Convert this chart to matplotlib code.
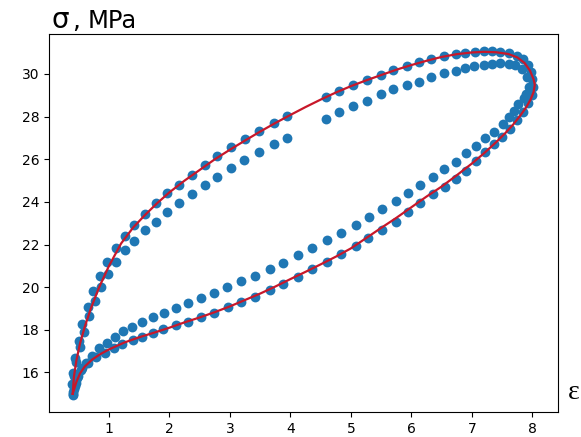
import matplotlib
matplotlib.use("Agg")
import matplotlib.pyplot as plt

# ── measured loops (strain, stress) ──────────────────────────────────────────
# loop 1: outer upper branch (loading) ...
up1_x = [0.40, 0.39, 0.40, 0.44, 0.50, 0.56, 0.65, 0.74, 0.85, 0.97, 1.12, 1.26,
         1.42, 1.59, 1.77, 1.96, 2.16, 2.37, 2.58, 2.78, 3.02, 3.25, 3.48, 3.72,
         3.95, 4.59, 4.81, 5.04, 5.26, 5.49, 5.70, 5.92, 6.13, 6.33, 6.54, 6.73,
         6.89, 7.05, 7.20, 7.33, 7.47, 7.61, 7.74, 7.84, 7.92, 7.97, 8.00, 8.01]
up1_y = [14.95, 15.45, 15.97, 16.70, 17.48, 18.26, 19.05, 19.81, 20.53, 21.18,
         21.85, 22.39, 22.91, 23.44, 23.94, 24.41, 24.81, 25.27, 25.75, 26.14,
         26.56, 26.95, 27.34, 27.70, 28.04, 28.92, 29.21, 29.49, 29.72, 29.95,
         30.18, 30.39, 30.55, 30.69, 30.84, 30.94, 31.00, 31.04, 31.07, 31.07,
         31.04, 30.97, 30.84, 30.68, 30.42, 30.10, 29.75, 29.40]
# ... and its lower branch (unloading)
lo1_x = [8.00, 7.93, 7.85, 7.75, 7.63, 7.50, 7.37, 7.22, 7.07, 6.91, 6.73, 6.55,
         6.36, 6.15, 5.95, 5.74, 5.52, 5.29, 5.08, 4.83, 4.61, 4.36, 4.12, 3.88,
         3.66, 3.41, 3.18, 2.96, 2.74, 2.52, 2.30, 2.10, 1.90, 1.72, 1.55, 1.39,
         1.22, 1.08, 0.93, 0.78, 0.65, 0.56, 0.49, 0.45, 0.42]
lo1_y = [29.02, 28.62, 28.22, 27.82, 27.42, 27.05, 26.70, 26.32, 25.90, 25.47,
         25.08, 24.72, 24.35, 23.94, 23.52, 23.08, 22.70, 22.32, 21.93, 21.55,
         21.18, 20.84, 20.48, 20.17, 19.86, 19.55, 19.31, 19.05, 18.80, 18.58,
         18.38, 18.22, 18.05, 17.86, 17.68, 17.52, 17.34, 17.14, 16.93, 16.71,
         16.43, 16.20, 15.85, 15.50, 15.20]

# loop 2: inner upper branch ...
up2_x = [0.41, 0.42, 0.46, 0.52, 0.59, 0.67, 0.77, 0.87, 0.99, 1.12, 1.26, 1.42,
         1.59, 1.77, 1.96, 2.16, 2.37, 2.58, 2.79, 3.02, 3.24, 3.48, 3.72, 3.95,
         4.59, 4.81, 5.04, 5.26, 5.49, 5.70, 5.92, 6.13, 6.33, 6.54, 6.73, 6.88,
         7.03, 7.20, 7.33, 7.47, 7.61, 7.72, 7.83, 7.91, 7.94]
up2_y = [15.10, 15.81, 16.51, 17.21, 17.91, 18.64, 19.36, 20.01, 20.61, 21.18,
         21.75, 22.16, 22.66, 23.08, 23.52, 23.94, 24.38, 24.77, 25.15, 25.57,
         25.97, 26.32, 26.71, 27.02, 27.88, 28.24, 28.50, 28.74, 29.05, 29.28,
         29.49, 29.64, 29.86, 30.03, 30.14, 30.27, 30.37, 30.42, 30.48, 30.52,
         30.48, 30.42, 30.22, 29.85, 29.40]
# ... and its lower branch
lo2_x = [7.90, 7.86, 7.77, 7.69, 7.61, 7.51, 7.36, 7.22, 7.06, 6.90, 6.73, 6.54,
         6.35, 6.15, 5.95, 5.74, 5.52, 5.30, 5.08, 4.83, 4.61, 4.36, 4.12, 3.88,
         3.66, 3.41, 3.18, 2.95, 2.73, 2.52, 2.30, 2.11, 1.91, 1.72, 1.55, 1.38,
         1.23, 1.10, 0.97, 0.84, 0.72, 0.62, 0.54, 0.47, 0.43, 0.41]
lo2_y = [29.05, 28.89, 28.58, 28.27, 27.96, 27.65, 27.29, 27.00, 26.64, 26.28,
         25.89, 25.55, 25.15, 24.80, 24.41, 24.02, 23.68, 23.29, 22.90, 22.56,
         22.20, 21.86, 21.53, 21.15, 20.87, 20.52, 20.28, 20.01, 19.73, 19.50,
         19.27, 19.03, 18.80, 18.58, 18.35, 18.14, 17.96, 17.68, 17.40, 17.14,
         16.78, 16.43, 16.12, 15.73, 15.35, 15.00]

# model curve (red)
fit_x = [0.40, 0.42, 0.46, 0.52, 0.60, 0.70, 0.83, 1.00, 1.20, 1.40, 1.60, 1.80,
         2.00, 2.25, 2.50, 2.75, 3.00, 3.25, 3.50, 3.75, 4.00, 4.25, 4.50, 4.75,
         5.00, 5.25, 5.50, 5.75, 6.00, 6.25, 6.50, 6.75, 7.00, 7.20, 7.40, 7.60,
         7.75, 7.87, 7.96, 8.02, 8.04, 8.02, 7.97, 7.90, 7.80, 7.68, 7.55, 7.40,
         7.20, 7.00, 6.75, 6.50, 6.25, 6.00, 5.75, 5.50, 5.25, 5.00, 4.75, 4.50,
         4.25, 4.00, 3.75, 3.50, 3.25, 3.00, 2.75, 2.50, 2.25, 2.00, 1.75, 1.50,
         1.25, 1.00, 0.85, 0.72, 0.60, 0.52, 0.46, 0.40]
fit_y = [15.00, 15.80, 16.55, 17.35, 18.15, 19.00, 19.95, 21.00, 22.05, 22.80,
         23.40, 23.95, 24.45, 25.00, 25.50, 26.00, 26.45, 26.88, 27.30, 27.70,
         28.08, 28.45, 28.80, 29.13, 29.43, 29.70, 29.95, 30.20, 30.42, 30.62,
         30.80, 30.93, 31.01, 31.04, 31.02, 30.94, 30.78, 30.52, 30.16, 29.75,
         29.50, 29.15, 28.80, 28.45, 28.05, 27.62, 27.22, 26.80, 26.28, 25.80,
         25.25, 24.72, 24.25, 23.75, 23.25, 22.78, 22.30, 21.82, 21.43, 21.07,
         20.72, 20.38, 20.03, 19.70, 19.40, 19.10, 18.83, 18.58, 18.35, 18.10,
         17.87, 17.65, 17.40, 17.08, 16.85, 16.60, 16.28, 15.95, 15.55, 15.00]

C_DOT = "#1f77b4"
C_FIT = "#c8182a"

fig = plt.figure(figsize=(5.81, 4.37), dpi=100)
ax = fig.add_axes([0.0843, 0.0572, 0.876, 0.865])

for xs, ys in [(up1_x, up1_y), (lo1_x, lo1_y), (up2_x, up2_y), (lo2_x, lo2_y)]:
    ax.scatter(xs, ys, s=50, color=C_DOT, zorder=2, linewidths=0)

ax.plot(fit_x, fit_y, color=C_FIT, lw=1.6, zorder=3)

ax.set_xticks([1, 2, 3, 4, 5, 6, 7, 8])
ax.set_yticks([16, 18, 20, 22, 24, 26, 28, 30])
ax.tick_params(labelsize=10)

# axis captions placed like the original (outside the frame)
fig.text(0.089, 0.935, "\u03c3", fontsize=20, family="DejaVu Sans",
         ha="left", va="baseline")
fig.text(0.124, 0.935, ",", fontsize=18, family="DejaVu Sans",
         ha="left", va="baseline")
fig.text(0.150, 0.935, "MPa", fontsize=17.5, family="DejaVu Sans",
         ha="left", va="baseline")
fig.text(0.977, 0.087, "\u03b5", fontsize=20, family="Liberation Serif",
         ha="left", va="baseline")

fig.savefig("out.png", dpi=100)
